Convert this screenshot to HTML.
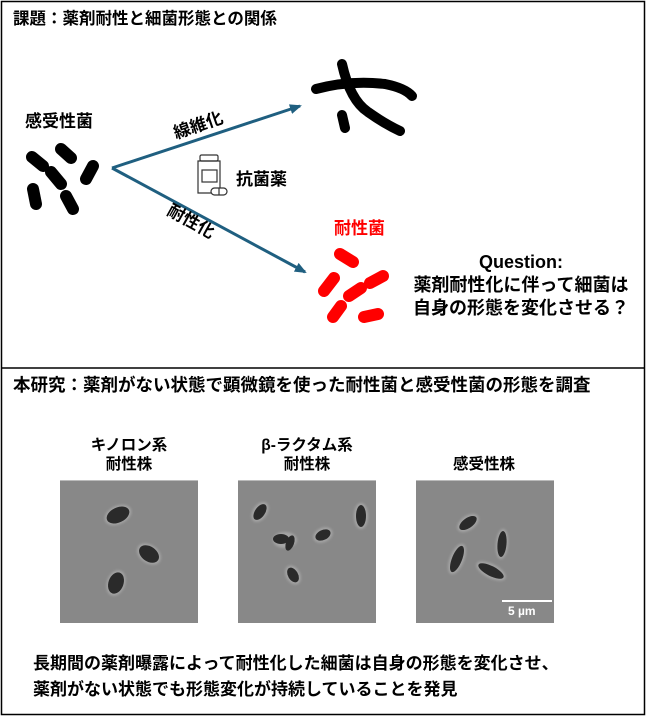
<!DOCTYPE html>
<html><head><meta charset="utf-8"><style>
html,body{margin:0;padding:0;background:#fff}
svg{display:block}
text{font-family:"Liberation Sans","Noto Sans CJK JP",sans-serif;font-weight:bold}
</style></head><body>
<svg width="646" height="716" viewBox="0 0 646 716" xmlns="http://www.w3.org/2000/svg">
<defs>
<filter id="blur"><feGaussianBlur stdDeviation="1.2"/></filter>
<marker id="ah" markerWidth="12" markerHeight="10" refX="10" refY="5" orient="auto" markerUnits="userSpaceOnUse"><path d="M0,0 L12,5 L0,10 z" fill="#1f5f80"/></marker>
</defs>
<rect x="1.5" y="1.5" width="643" height="713" fill="#fff" stroke="#000" stroke-width="1.5"/>
<line x1="1" y1="368" x2="645" y2="368" stroke="#000" stroke-width="1.5"/>

<text x="13" y="24" font-size="16.5">課題：薬剤耐性と細菌形態との関係</text>
<text x="25" y="127" font-size="17">感受性菌</text>

<g stroke="#000" stroke-width="12" stroke-linecap="round" fill="none">
<line x1="32" y1="157" x2="43" y2="166"/>
<line x1="61" y1="149" x2="71" y2="158"/>
<line x1="51" y1="172" x2="61" y2="184"/>
<line x1="93" y1="166" x2="86" y2="179"/>
<line x1="33" y1="189" x2="36" y2="204"/>
<line x1="66" y1="196" x2="73" y2="209"/>
</g>

<g stroke="#1f5f80" stroke-width="3" fill="none">
<line x1="112" y1="168" x2="300" y2="106" marker-end="url(#ah)"/>
<line x1="112" y1="168" x2="305" y2="272" marker-end="url(#ah)"/>
</g>
<text font-size="17" transform="translate(176,139) rotate(-19)">線維化</text>
<text font-size="17" transform="translate(166,214) rotate(29)">耐性化</text>

<g stroke="#333" stroke-width="1.2" fill="none">
<rect x="200" y="155" width="18" height="6" rx="1.5"/>
<path d="M198,161 h22 v32 h-22 z"/>
<rect x="202" y="170" width="15" height="12"/>
<rect x="211" y="188" width="16" height="7" rx="3.5" fill="#fff"/>
<line x1="219" y1="188" x2="219" y2="195"/>
</g>
<text x="236" y="185" font-size="17">抗菌薬</text>

<g stroke="#000" stroke-width="10" stroke-linecap="round" fill="none">
<path d="M316,89 Q350,80 385,84 Q405,88 412,96"/>
<path d="M342,64 Q350,100 368,112 Q385,124 400,131"/>
<line x1="342" y1="115" x2="345" y2="128"/>
</g>

<text x="334" y="234" font-size="17" fill="#ff0000">耐性菌</text>
<g stroke="#ff0000" stroke-width="12" stroke-linecap="round" fill="none">
<line x1="340" y1="254" x2="353" y2="262"/>
<line x1="324" y1="291" x2="334" y2="278"/>
<line x1="370" y1="283" x2="383" y2="276"/>
<line x1="349" y1="296" x2="361" y2="288"/>
<line x1="333" y1="317" x2="341" y2="306"/>
<line x1="364" y1="317" x2="378" y2="314"/>
</g>

<g font-size="18" text-anchor="middle">
<text x="521" y="268">Question:</text>
<text x="521" y="291">薬剤耐性化に伴って細菌は</text>
<text x="521" y="314">自身の形態を変化させる？</text>
</g>

<text x="13" y="391" font-size="17.5">本研究：薬剤がない状態で顕微鏡を使った耐性菌と感受性菌の形態を調査</text>

<g font-size="15.5" text-anchor="middle">
<text x="129" y="450">キノロン系</text>
<text x="129" y="469">耐性株</text>
<text x="307" y="450">β-ラクタム系</text>
<text x="307" y="469">耐性株</text>
<text x="484" y="469">感受性株</text>
</g>

<rect x="60" y="480" width="138" height="143" fill="#888"/>
<rect x="238" y="480" width="138" height="143" fill="#888"/>
<rect x="416" y="480" width="138" height="143" fill="#888"/>
<line x1="60" y1="480.5" x2="198" y2="480.5" stroke="#bbb"/>
<line x1="238" y1="480.5" x2="376" y2="480.5" stroke="#bbb"/>
<line x1="416" y1="480.5" x2="554" y2="480.5" stroke="#bbb"/>

<g fill="#a6a6a6" filter="url(#blur)">
<ellipse cx="118" cy="515" rx="14" ry="9" transform="rotate(-25 118 515)"/>
<ellipse cx="149" cy="554" rx="13" ry="9" transform="rotate(35 149 554)"/>
<ellipse cx="116" cy="583" rx="9" ry="13" transform="rotate(20 116 583)"/>
<ellipse cx="260" cy="512" rx="7" ry="11" transform="rotate(35 260 512)"/>
<ellipse cx="361" cy="516" rx="7" ry="13"/>
<ellipse cx="285" cy="540" rx="12" ry="8"/>
<ellipse cx="323" cy="535" rx="10" ry="7" transform="rotate(-25 323 535)"/>
<ellipse cx="293" cy="575" rx="7" ry="10" transform="rotate(-30 293 575)"/>
<ellipse cx="468" cy="523" rx="12" ry="7" transform="rotate(-35 468 523)"/>
<ellipse cx="457" cy="559" rx="7" ry="16" transform="rotate(22 457 559)"/>
<ellipse cx="502" cy="544" rx="6" ry="15" transform="rotate(5 502 544)"/>
<ellipse cx="491" cy="571" rx="16" ry="7" transform="rotate(27 491 571)"/>
</g>
<g fill="#2a2a2a">
<ellipse cx="118" cy="515" rx="12" ry="7.5" transform="rotate(-25 118 515)"/>
<ellipse cx="149" cy="554" rx="11" ry="7.5" transform="rotate(35 149 554)"/>
<ellipse cx="116" cy="583" rx="7.5" ry="11" transform="rotate(20 116 583)"/>
<ellipse cx="260" cy="512" rx="5" ry="9" transform="rotate(35 260 512)"/>
<ellipse cx="361" cy="516" rx="5" ry="11"/>
<ellipse cx="281" cy="539" rx="8" ry="5"/>
<ellipse cx="290" cy="543" rx="4" ry="8" transform="rotate(20 290 543)"/>
<ellipse cx="323" cy="535" rx="8" ry="5" transform="rotate(-25 323 535)"/>
<ellipse cx="293" cy="575" rx="5" ry="8" transform="rotate(-30 293 575)"/>
<ellipse cx="468" cy="523" rx="10" ry="5" transform="rotate(-35 468 523)"/>
<ellipse cx="457" cy="559" rx="5" ry="14" transform="rotate(22 457 559)"/>
<ellipse cx="502" cy="544" rx="4.5" ry="13" transform="rotate(5 502 544)"/>
<ellipse cx="491" cy="571" rx="14" ry="5" transform="rotate(27 491 571)"/>
</g>
<line x1="502" y1="601" x2="552" y2="601" stroke="#fff" stroke-width="2"/>
<text x="508" y="615" font-size="12" fill="#fff">5 µm</text>

<g font-size="17">
<text x="33" y="669">長期間の薬剤曝露によって耐性化した細菌は自身の形態を変化させ、</text>
<text x="33" y="695">薬剤がない状態でも形態変化が持続していることを発見</text>
</g>
</svg>
</body></html>
